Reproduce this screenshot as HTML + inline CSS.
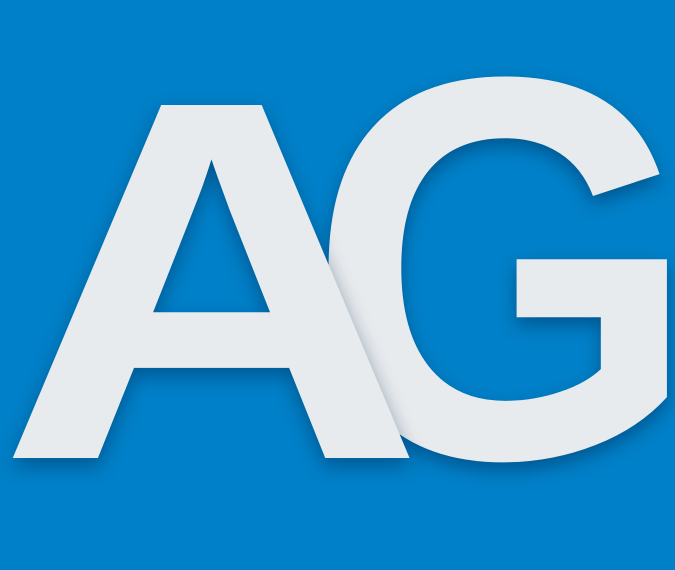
<!DOCTYPE html>
<html>
<head>
<meta charset="utf-8">
<style>
  html,body{margin:0;padding:0;}
  body{width:675px;height:570px;overflow:hidden;background:#0080c8;position:relative;}
  .logo{position:absolute;left:0;top:0;width:675px;height:570px;background:#0080c8;overflow:hidden;}
  .ltr{position:absolute;font-family:"Liberation Sans",sans-serif;font-weight:bold;line-height:1;color:#e8ebee;
       transform-origin:0 0;white-space:nowrap;text-shadow:0 8px 18px rgba(0,40,80,0.45);}
  #a{left:-2px;top:24px;font-size:513px;transform:scaleX(1.153);}
  #g{left:308px;top:-3px;font-size:545px;transform:scaleX(0.92);}
</style>
</head>
<body>
<div class="logo">
  <span id="g" class="ltr">G</span>
  <span id="a" class="ltr">A</span>
</div>
</body>
</html>
